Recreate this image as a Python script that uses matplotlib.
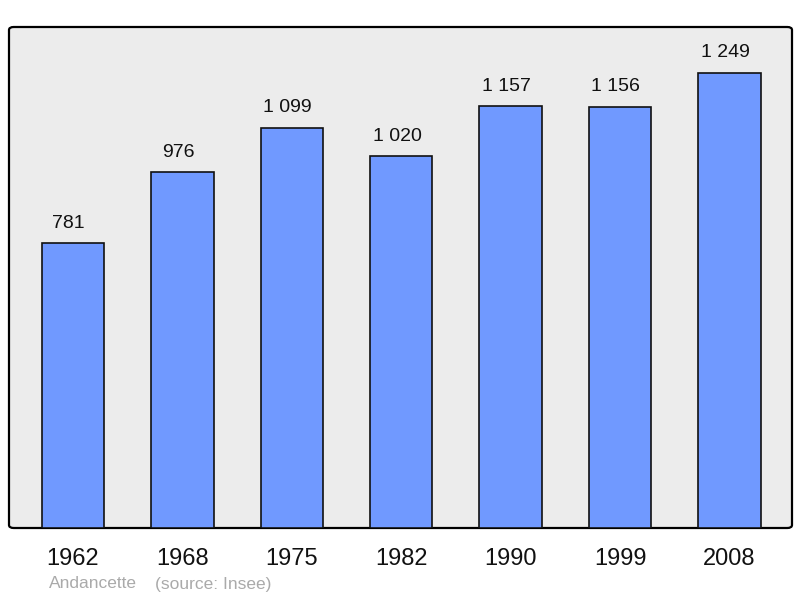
import matplotlib
matplotlib.use("Agg")
import matplotlib.pyplot as plt
from matplotlib.patches import FancyBboxPatch

plt.rcParams['font.family'] = ['Liberation Sans', 'DejaVu Sans']

years = ['1962', '1968', '1975', '1982', '1990', '1999', '2008']
population = [781, 976, 1099, 1020, 1157, 1156, 1249]
value_labels = ['781', '976', '1 099', '1 020', '1 157', '1 156', '1 249']

fig = plt.figure(figsize=(8, 5.98), dpi=100)
ax = fig.add_axes([9 / 800, 1 - 528 / 598, 783 / 800, 501 / 598])
ax.patch.set_visible(False)
for s in ax.spines.values():
    s.set_visible(False)

# rounded background frame
frame = FancyBboxPatch((0, 0), 1, 1, boxstyle="round,pad=0,rounding_size=0.006",
                       transform=ax.transAxes, facecolor='#ececec',
                       edgecolor='black', linewidth=1.6, zorder=0, clip_on=False)
ax.add_patch(frame)

x = list(range(len(years)))
bars = ax.bar(x, population, width=0.57, color='#7099ff', edgecolor='#111111',
              linewidth=1.2, zorder=2)

for xi, v, lab in zip(x, population, value_labels):
    ax.annotate(lab, (xi, v), xytext=(-3, 8.5), textcoords='offset points',
                ha='center', va='bottom', fontsize=14, color='#111111')

ax.set_xlim(-0.584, 6.571)
ax.set_ylim(0, 1375)
ax.set_yticks([])
ax.set_xticks(x)
ax.set_xticklabels(years, fontsize=17, color='#111111')
ax.tick_params(axis='x', length=0, pad=14.5)

fig.text(49 / 800, 1 - 584 / 598, 'Andancette', fontsize=12.5, color='#aaaaaa', va='center')
fig.text(155 / 800, 1 - 584 / 598, '(source: Insee)', fontsize=12.5, color='#aaaaaa', va='center')

fig.savefig('out.png', dpi=100)
